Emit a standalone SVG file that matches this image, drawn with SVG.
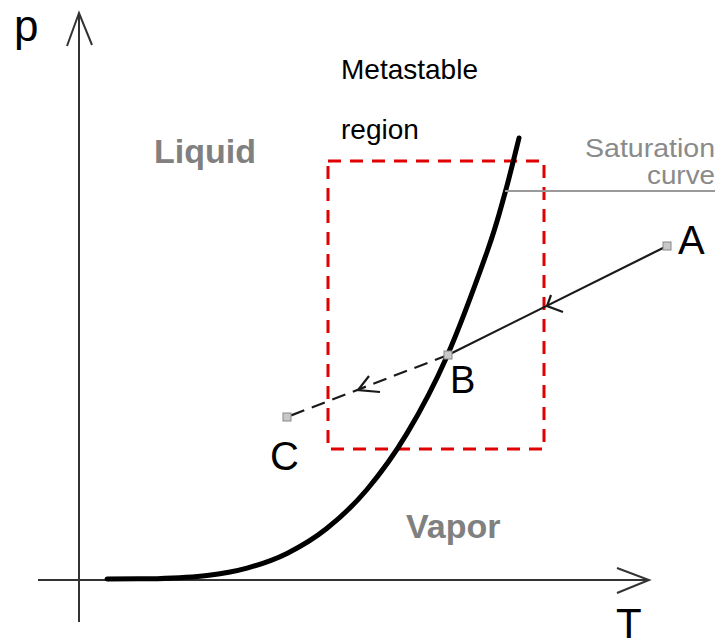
<svg xmlns="http://www.w3.org/2000/svg" width="719" height="643" viewBox="0 0 719 643">
<style>
.axis{stroke:#333;stroke-width:2;fill:none}
.lbl{font-family:"Liberation Sans",Arial,sans-serif;fill:#000}
.phase{font-family:"Liberation Sans",Arial,sans-serif;font-weight:bold;fill:#808080;font-size:34px}
.sat{font-family:"Liberation Sans",Arial,sans-serif;fill:#8a8a8a;font-size:25px}
.pt{fill:#c8c8c8;stroke:#888;stroke-width:1}
.proc{stroke:#1a1a1a;stroke-width:2.2;fill:none}
</style>
<rect width="719" height="643" fill="#fff"/>
<g id="axes">
<line class="axis" x1="79" y1="14" x2="79" y2="622"/>
<polyline class="axis" points="67,46 79,13 92,45"/>
<line class="axis" x1="38" y1="580" x2="648" y2="580"/>
<polyline class="axis" points="617,568 649,580 617,593"/>
<text class="lbl" x="14" y="41" font-size="44">p</text>
<text class="lbl" x="616" y="638" font-size="42">T</text>
</g>
<g id="metastable-region">
<rect x="328" y="161" width="216" height="288" fill="none" stroke="#e00000" stroke-width="3" stroke-dasharray="13,9"/>
<text class="lbl" x="341" y="79" font-size="28">Metastable</text>
<text class="lbl" x="341" y="139" font-size="28">region</text>
</g>
<g id="saturation-curve">
<path d="M107,579 C115.3,578.95 140.3,578.9 157,578.7 C173.7,578.1 192,577.3 207,575.5 C222,573.7 233.7,571.8 247,568.1 C260.3,564.4 273.7,560 287,553.4 C300.3,546.8 313.7,539 327,528.3 C340.3,517.7 353.7,505.3 367,489.5 C380.3,473.7 393.7,455.6 407,433.4 C420.3,411.2 433.7,386.4 447,356.2 C460.3,326 477.3,279.2 487,252 C496.7,224.8 499.7,212 505,193 C510.3,174 516.7,147.2 519,138" fill="none" stroke="#000" stroke-width="5" stroke-linecap="round"/>
<line x1="505" y1="191" x2="715" y2="191" stroke="#999" stroke-width="2"/>
<text class="sat" x="585" y="157" textLength="130" lengthAdjust="spacingAndGlyphs">Saturation</text>
<text class="sat" x="647" y="184" textLength="68" lengthAdjust="spacingAndGlyphs">curve</text>
</g>
<g id="phase-labels">
<text class="phase" x="154" y="163">Liquid</text>
<text class="phase" x="406" y="538">Vapor</text>
</g>
<g id="connectors">
<line class="proc" x1="667" y1="246" x2="448" y2="355"/>
<polyline class="proc" points="551,295 547,306 563,312"/>
<line class="proc" x1="448" y1="355" x2="287" y2="417" stroke-dasharray="14,8" stroke="#333"/>
<polyline class="proc" points="369,376 358,390 380,392"/>
</g>
<g id="node-A">
<rect class="pt" x="663" y="242" width="8" height="8"/>
<text class="lbl" x="678" y="254" font-size="40">A</text>
</g>
<g id="node-B">
<rect class="pt" x="444" y="351" width="8" height="8"/>
<text class="lbl" x="450" y="393" font-size="38">B</text>
</g>
<g id="node-C">
<rect class="pt" x="283" y="413" width="8" height="8"/>
<text class="lbl" x="270" y="470" font-size="40">C</text>
</g>
</svg>
